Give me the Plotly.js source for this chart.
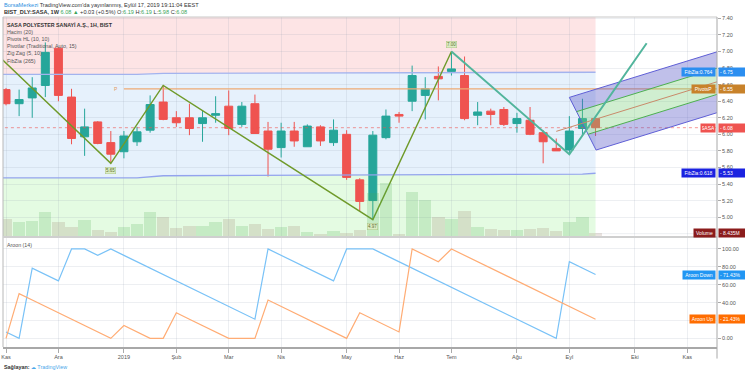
<!DOCTYPE html>
<html><head><meta charset="utf-8">
<script src="https://cdn.plot.ly/plotly-3.0.1.min.js"></script>
<style>html,body{margin:0;padding:0;background:#fff;} #chart{width:745px;height:375px;}</style>
</head><body><div id="chart"></div>
<script>
// ---------- data ----------
const weeks = ['2018-11-05','2018-11-12','2018-11-19','2018-11-26','2018-12-03','2018-12-10','2018-12-17','2018-12-24','2018-12-31',
 '2019-01-07','2019-01-14','2019-01-21','2019-01-28','2019-02-04','2019-02-11','2019-02-18','2019-02-25','2019-03-04','2019-03-11',
 '2019-03-18','2019-03-25','2019-04-01','2019-04-08','2019-04-15','2019-04-22','2019-04-29','2019-05-06','2019-05-13','2019-05-20',
 '2019-05-27','2019-06-03','2019-06-10','2019-06-17','2019-06-24','2019-07-01','2019-07-08','2019-07-15','2019-07-22','2019-07-29',
 '2019-08-05','2019-08-12','2019-08-19','2019-08-26','2019-09-02','2019-09-09','2019-09-16'];
const openP  = [6.54,6.37,6.44,6.59,7.04,6.45,5.97,6.15,5.90,5.79,5.91,6.05,6.39,6.20,6.20,6.13,6.23,6.34,6.12,6.37,6.04,5.84,6.04,5.85,6.09,5.90,6.00,5.45,5.20,5.96,6.24,6.40,6.47,6.70,6.76,6.71,6.23,6.28,6.30,6.13,6.17,6.02,5.83,5.81,6.07,6.19];
const highP  = [6.56,6.54,6.69,7.11,7.05,6.55,6.31,6.16,6.04,6.04,6.09,6.47,6.59,6.28,6.37,6.29,6.46,6.53,6.39,6.48,6.15,6.14,6.15,6.12,6.11,6.18,6.05,5.47,6.04,6.30,6.27,6.83,6.69,6.82,7.00,6.94,6.39,6.31,6.33,6.26,6.33,6.05,5.95,6.22,6.43,6.19];
const lowP   = [6.35,6.22,6.20,6.45,6.40,5.88,5.74,5.88,5.65,5.71,5.86,6.02,6.17,6.09,5.99,5.91,6.14,5.99,6.09,6.01,5.49,5.72,5.85,5.85,5.86,5.86,5.45,5.07,4.97,5.94,6.14,6.28,6.18,6.41,6.71,6.17,6.11,6.11,6.10,6.02,5.99,5.65,5.80,5.76,5.98,5.98];
const closeP = [6.37,6.42,6.56,6.99,6.47,5.95,6.09,5.89,5.76,5.98,6.03,6.36,6.18,6.14,6.07,6.20,6.25,6.07,6.34,6.01,5.82,6.04,5.92,6.10,5.92,6.05,5.48,5.19,5.99,6.22,6.22,6.71,6.55,6.67,6.79,6.19,6.27,6.24,6.12,6.19,6.00,5.91,5.80,6.04,6.19,6.08];
const volumeM = [43,35,39,59,35,25,40,15.5,11.4,23,32,59,47,22,26,27,35,42,26,30,19,23,26,11.4,8.3,13.8,10,16,104,129,8.3,107,89,47,42,61,23,20,15.5,16,18,22,14,35,47,8.435];
const aroonUp = [0,50,42.86,35.71,28.57,21.43,14.29,7.14,0,14.29,7.14,0,0,28.57,21.43,14.29,7.14,0,0,0,42.86,35.71,28.57,21.43,14.29,7.14,0,28.57,21.43,14.29,7.14,100,92.86,85.71,100,92.86,85.71,78.57,71.43,64.29,57.14,50,42.86,35.71,28.57,21.43];
const aroonDown = [7.14,0,78.57,71.43,64.29,100,100,92.86,100,92.86,85.71,78.57,71.43,64.29,57.14,50,42.86,35.71,28.57,21.43,100,92.86,85.71,78.57,71.43,64.29,100,100,100,92.86,85.71,78.57,71.43,64.29,57.14,50,42.86,35.71,28.57,21.43,14.29,7.14,0,85.71,78.57,71.43];
const monthTickIdx  = [0,4,9,13,17,21,26,30,34,39,43,48,52];
const monthTickText = ['Kas','Ara','2019','Şub','Mar','Nis','May','Haz','Tem','Ağu','Eyl','Eki','Kas'];
const priceTicks = [5.0,5.2,5.4,5.6,5.8,6.0,6.2,6.4,6.6,6.8,7.0,7.2,7.4];
const aroonTicks = [0,40,60,80,100];
const aroonGrid  = [0,20,40,60,80,100];
// FibZia bands
const fibX     = [-1, 10, 12, 29, 44, 45];
const fibUpper = [6.725, 6.725, 6.735, 6.74, 6.745, 6.75];
const fibLower = [5.475, 5.475, 5.50, 5.515, 5.52, 5.53];
// pivot
const pivotP = 6.55, pivotStartIdx = 9;
// zig zag
const zzX = [-1, 8, 12, 28, 34];
const zzY = [7.01, 5.65, 6.59, 4.97, 7.00];
const zz2X = [34, 43, 48.9];
const zz2Y = [7.00, 5.76, 7.10];
const zzLabelIdx = [8, 28, 34];
const zzLabelVal = [5.65, 4.97, 7.00];
const zzLabelUp  = [false, false, true];
// channel drawing anchors
const chanTopX = [43, 55],    chanTopY = [6.446, 7.032];
const chanHiX  = [43.55, 55], chanHiY  = [6.274, 6.834];
const chanLoX  = [44.43, 55], chanLoY  = [6.001, 6.518];
const chanBotX = [45.04, 55], chanBotY = [5.81, 6.297];
const chanMidX = [42, 55],    chanMidY = [6.036, 6.67];

// ---------- build ----------
const idx = weeks.map((d, i) => i);
const last = idx.length - 1;
const px2x = px => (px - 3) / 714;
const py2y = py => (347 - py) / 330;

function pathFrom(pts) { return pts.map((p, i) => (i ? 'L' : 'M') + p[0] + ',' + p[1]).join(' ') + ' Z'; }
const up = fibX.map((x, i) => [x, fibUpper[i]]);
const lo = fibX.map((x, i) => [x, fibLower[i]]);
const xEnd = fibX[fibX.length - 1], xStart = fibX[0];
const grid = 'rgba(140,155,175,0.16)';

const shapes = [
  {type:'path', xref:'x', yref:'y', layer:'below', line:{width:0}, fillcolor:'#fde4e5',
   path: pathFrom([[xStart, 7.6],[xEnd, 7.6]].concat(up.slice().reverse()))},
  {type:'path', xref:'x', yref:'y', layer:'below', line:{width:0}, fillcolor:'#e6f1fc',
   path: pathFrom(up.concat(lo.slice().reverse()))},
  {type:'path', xref:'x', yref:'y', layer:'below', line:{width:0}, fillcolor:'#e4fbe2',
   path: pathFrom(lo.concat([[xEnd, 4.5],[xStart, 4.5]]))},
  // frame lines
  {type:'line', xref:'paper', yref:'paper', x0:0, x1:1, y0:1, y1:1, line:{color:'#c8c8c8', width:1}},
  {type:'line', xref:'paper', yref:'paper', x0:0, x1:0, y0:0, y1:1, line:{color:'#b8b8b8', width:1}},
  {type:'line', xref:'paper', yref:'paper', x0:0, x1:1, y0:1/3, y1:1/3, line:{color:'#cfcfcf', width:2}},
  {type:'line', xref:'paper', yref:'paper', x0:1, x1:1, y0:-0.035, y1:1, line:{color:'#a8a8a8', width:1}}
];

const traces = [];
traces.push({type:'bar', x: idx, y: volumeM, yaxis:'y3', xaxis:'x', width:0.94,
  marker:{color: closeP.map((c, i) => c >= openP[i] ? 'rgba(76,175,80,0.2)' : 'rgba(150,120,100,0.2)'), line:{width:0}},
  hoverinfo:'skip'});
traces.push({type:'scatter', mode:'lines', x: fibX, y: fibUpper, yaxis:'y', line:{color:'#a3b3ee', width:1.3}, hoverinfo:'skip'});
traces.push({type:'scatter', mode:'lines', x: fibX, y: fibLower, yaxis:'y', line:{color:'#93a3ee', width:1.3}, hoverinfo:'skip'});
traces.push({type:'scatter', mode:'lines', x: [-1, 55], y: [closeP[last], closeP[last]], yaxis:'y',
  line:{color:'rgba(239,83,80,0.6)', width:1, dash:'dot'}, hoverinfo:'skip'});
traces.push({type:'scatter', mode:'lines', x: [pivotStartIdx, 55], y: [pivotP, pivotP], yaxis:'y',
  line:{color:'#eeaa74', width:1.2}, hoverinfo:'skip'});
traces.push({type:'candlestick', x: idx, open: openP, high: highP, low: lowP, close: closeP, yaxis:'y', xaxis:'x',
  increasing:{line:{color:'#26a69a', width:1}, fillcolor:'#26a69a'},
  decreasing:{line:{color:'#ef5350', width:1}, fillcolor:'#ef5350'},
  whiskerwidth:0, hoverinfo:'skip'});
function poly(a, b, fill) {
  return {type:'scatter', mode:'lines', fill:'toself', fillcolor: fill, line:{width:0}, yaxis:'y', hoverinfo:'skip',
    x:[a[0][0], a[0][1], b[0][1], b[0][0], a[0][0]], y:[a[1][0], a[1][1], b[1][1], b[1][0], a[1][0]]};
}
traces.push(poly([chanTopX, chanTopY], [chanHiX, chanHiY], 'rgba(90,90,200,0.38)'));
traces.push(poly([chanHiX, chanHiY], [chanLoX, chanLoY], 'rgba(120,205,120,0.35)'));
traces.push(poly([chanLoX, chanLoY], [chanBotX, chanBotY], 'rgba(90,90,200,0.38)'));
traces.push({type:'scatter', mode:'lines', x: [chanTopX[1], chanTopX[0], chanBotX[0], chanBotX[1]], y: [chanTopY[1], chanTopY[0], chanBotY[0], chanBotY[1]],
  yaxis:'y', line:{color:'#5f5fd6', width:1}, hoverinfo:'skip'});
traces.push({type:'scatter', mode:'lines', x: chanHiX, y: chanHiY, yaxis:'y', line:{color:'#4caf50', width:1}, hoverinfo:'skip'});
traces.push({type:'scatter', mode:'lines', x: chanLoX, y: chanLoY, yaxis:'y', line:{color:'#4caf50', width:1}, hoverinfo:'skip'});
traces.push({type:'scatter', mode:'lines', x: chanMidX, y: chanMidY, yaxis:'y', line:{color:'#c98a6a', width:1}, hoverinfo:'skip'});
traces.push({type:'scatter', mode:'lines', x: zzX, y: zzY, yaxis:'y', line:{color:'#6f9a2a', width:1.4}, hoverinfo:'skip'});
traces.push({type:'scatter', mode:'lines', x: zz2X, y: zz2Y, yaxis:'y', line:{color:'#52b59c', width:2}, hoverinfo:'skip'});
traces.push({type:'scatter', mode:'lines', x: idx, y: aroonDown, yaxis:'y2', line:{color:'#79c2f7', width:1.2}, hoverinfo:'skip'});
traces.push({type:'scatter', mode:'lines', x: idx, y: aroonUp, yaxis:'y2', line:{color:'#ffac74', width:1.2}, hoverinfo:'skip'});

const F = 'Liberation Sans, Arial, sans-serif';
const ann = [];
function txt(px, py, text, size, color, extra) {
  ann.push(Object.assign({xref:'paper', yref:'paper', x: px2x(px), y: py2y(py), xanchor:'left', yanchor:'middle',
    text, showarrow:false, font:{family:F, size, color}}, extra || {}));
}
txt(2, 5, '<span style="color:#2d8fe0">BorsaMerkezi</span> TradingView.com\'da yayınlanmış, Eylül 17, 2019 19:11:04 EEST', 5.6, '#333');
const g = s => '<span style="color:#3aa55a">' + s + '</span>';
txt(2, 12.5, '<b>BIST_DLY:SASA, 1W</b> ' + g(closeP[last].toFixed(2) + ' ▲') + ' +0.03 (+0.5%) O:' + g(openP[last].toFixed(2)) +
  ' H:' + g(highP[last].toFixed(2)) + ' L:' + g(lowP[last].toFixed(2)) + ' C:' + g(closeP[last].toFixed(2)), 5.6, '#333');
const legendLines = ['<b>SASA POLYESTER SANAYİ A.Ş., 1H, BIST</b>','Hacim (20)','Pivots HL (10, 10)','Pivotlar (Traditional, Auto, 15)','Zig Zag (5, 10)','FibZia (265)'];
const legendY = [25, 32.3, 39, 46, 53.3, 61];
legendLines.forEach((t, i) => txt(5, legendY[i], t, 5.3, i ? '#555' : '#333'));
txt(5, 245, 'Aroon (14)', 5.3, '#555');
txt(2, 367, '<b>Sağlayan:</b> <span style="color:#4aa8ea">☁ TradingView</span>', 5.4, '#333');

ann.push({xref:'x', yref:'y', x: pivotStartIdx - 0.3, y: pivotP, xanchor:'right', yanchor:'middle', text:'P', showarrow:false,
  font:{family:F, size:5, color:'#e39a5c'}});
zzLabelIdx.forEach((xi, i) => ann.push({xref:'x', yref:'y', x: xi, y: zzLabelVal[i], text: zzLabelVal[i].toFixed(2), showarrow:false,
  yshift: zzLabelUp[i] ? 7 : -7, font:{family:F, size:4.5, color:'#5a7030'}, bgcolor:'#dcecc4', bordercolor:'#a9c483', borderwidth:0.5, borderpad:0.5}));

const boxes = [
  {name:'FibZia:0.764', val: fibUpper[fibUpper.length-1].toFixed(2), yref:'y', y: fibUpper[fibUpper.length-1], color:'#2b8ef0', left:683},
  {name:'PivotsP', val: pivotP.toFixed(2), yref:'y', y: pivotP, color:'#c8822a', left:693},
  {name:'SASA', val: closeP[last].toFixed(2), yref:'y', y: closeP[last], color:'#ef5350', left:702},
  {name:'FibZia:0.618', val: fibLower[fibLower.length-1].toFixed(2), yref:'y', y: fibLower[fibLower.length-1], color:'#1b22e0', left:683},
  {name:'Volume', val: volumeM[last].toFixed(3) + 'M', yref:'y3', y: volumeM[last], color:'#8b1c1c', left:695},
  {name:'Aroon Down', val: aroonDown[last].toFixed(2) + '%', yref:'y2', y: aroonDown[last], color:'#2196f3', left:684},
  {name:'Aroon Up', val: aroonUp[last].toFixed(2) + '%', yref:'y2', y: aroonUp[last], color:'#ff6d00', left:691}
];
boxes.forEach(b => {
  ann.push({xref:'paper', yref:b.yref, x: px2x(716), y: b.y, xanchor:'right', yanchor:'middle', text: b.name, showarrow:false,
    width: 716 - b.left - 2, height: 5.5, align:'center', bgcolor: b.color, borderpad:1, font:{family:F, size:5, color:'#fff'}});
  ann.push({xref:'paper', yref:b.yref, x: px2x(717.5), y: b.y, xanchor:'left', yanchor:'middle', text: '- ' + b.val, showarrow:false,
    width: 25, height: 5.5, align:'left', bgcolor: b.color, borderpad:1, font:{family:F, size:5, color:'#fff'}});
});
// aroon grid line hidden behind label in reference (20%): keep the grid line only
aroonGrid.filter(v => aroonTicks.indexOf(v) < 0).forEach(v => shapes.push({type:'line', xref:'paper', yref:'y2', x0:0, x1:1, y0:v, y1:v, layer:'below', line:{color:grid, width:1}}));
shapes.push({type:'line', xref:'paper', yref:'y', x0:0, x1:1, y0:4.8, y1:4.8, layer:'below', line:{color:grid, width:1}});

const layout = {
  width:745, height:375, margin:{l:3, r:28, t:17, b:28},
  paper_bgcolor:'#fff', plot_bgcolor:'#fff', showlegend:false,
  boxgap:0.22, boxgroupgap:0.22, bargap:0,
  xaxis:{range:[-0.23, 54.27], anchor:'y2', tickvals: monthTickIdx, ticktext: monthTickText, ticks:'outside', ticklen:4,
    tickcolor:'#aaa', tickfont:{family:F, size:5.5, color:'#555'}, showline:true, linecolor:'#a8a8a8', linewidth:1.5,
    gridcolor:grid, zeroline:false, rangeslider:{visible:false}, fixedrange:true},
  yaxis:{domain:[1/3, 1], range:[4.76, 7.417], side:'right', tickvals: priceTicks, tickformat:'.2f', ticks:'outside', ticklen:3,
    tickcolor:'#aaa', tickfont:{family:F, size:5.5, color:'#555'}, gridcolor:grid, zeroline:false, showline:false},
  yaxis2:{domain:[0, 1/3], range:[-9.7, 113.4], side:'right', tickvals: aroonTicks, tickformat:'.2f', ticksuffix:'%',
    ticks:'outside', ticklen:3, tickcolor:'#aaa', tickfont:{family:F, size:5.5, color:'#555'}, gridcolor:grid, zeroline:false},
  yaxis3:{overlaying:'y', range:[0, 524], visible:false, showgrid:false},
  shapes, annotations: ann
};
Plotly.newPlot('chart', traces, layout, {staticPlot:true, displayModeBar:false});
</script>
</body></html>
